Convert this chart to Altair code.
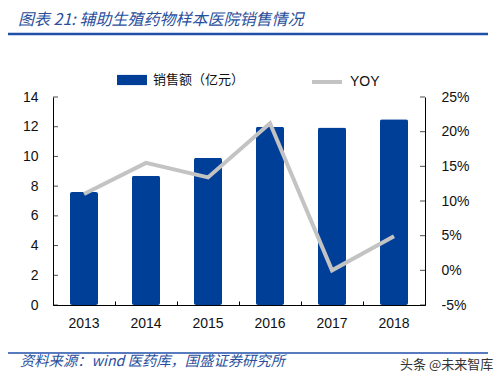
import altair as alt
import pandas as pd

years = ["2013", "2014", "2015", "2016", "2017", "2018"]
sales = [7.6, 8.7, 9.9, 12.0, 11.95, 12.5]
yoy = [11.0, 15.5, 13.4, 21.2, 0.0, 4.9]
left_ticks = [0, 2, 4, 6, 8, 10, 12, 14]
right_ticks = [-5, 0, 5, 10, 15, 20, 25]
series_names = ["销售额（亿元）", "YOY"]
title_text = "图表 21: 辅助生殖药物样本医院销售情况"
source_text = "资料来源：wind 医药库，国盛证券研究所"
watermark_text = "头条 @未来智库"

BLUE = "#003f98"
GRAY = "#c3c3c3"
TITLE_BLUE = "#2a4f9c"
W, H = 372, 208
CJK = "Noto Sans CJK SC"
LAT = "Liberation Sans"

df = pd.DataFrame({"year": years, "sales": sales, "yoy": yoy,
                   "s1": series_names[0], "s2": series_names[1]})
base = alt.Chart(df)
xscale = alt.Scale(domain=years, paddingInner=0, paddingOuter=0)

bars = base.mark_bar(size=28, cornerRadius=2).encode(
    x=alt.X("year:N", sort=years, scale=xscale,
            axis=alt.Axis(title=None, labelAngle=0, ticks=False, domainColor="#000",
                          labelFont=LAT, labelFontSize=14, labelColor="#111",
                          labelPadding=11, orient="bottom")),
    y=alt.Y("sales:Q", scale=alt.Scale(domain=[0, 14], nice=False, zero=False),
            axis=alt.Axis(title=None, orient="left", values=left_ticks, ticks=False,
                          domainColor="#000", labelFont=LAT, labelFontSize=14,
                          labelColor="#111", labelPadding=15, grid=False)),
    color=alt.Color("s1:N", scale=alt.Scale(domain=[series_names[0]], range=[BLUE]),
                    legend=alt.Legend(orient="none", legendX=64, legendY=-32, title=None,
                                      symbolType="M-1,-0.34H1V0.34H-1Z", symbolSize=900,
                                      symbolStrokeWidth=0, labelFont=CJK, labelFontSize=13,
                                      labelColor="#111", labelOffset=6)),
)

line = base.mark_line(strokeWidth=4).encode(
    x=alt.X("year:N", sort=years, scale=xscale,
            axis=alt.Axis(title=None, orient="top", offset=-H, labels=False, domain=False,
                          ticks=True, tickSize=4, tickColor="#000", tickBand="extent")),
    y=alt.Y("yoy:Q", scale=alt.Scale(domain=[-5, 25], nice=False, zero=False),
            axis=alt.Axis(title=None, orient="right", values=right_ticks, ticks=False,
                          domainColor="#000", labelFont=LAT, labelFontSize=14,
                          labelColor="#111", labelPadding=16, grid=False,
                          labelExpr="datum.value + '%'")),
    stroke=alt.Stroke("s2:N", scale=alt.Scale(domain=[series_names[1]], range=[GRAY]),
                      legend=alt.Legend(orient="none", legendX=257, legendY=-32, title=None,
                                        symbolType="stroke", symbolSize=900,
                                        symbolStrokeWidth=4, labelFont=LAT, labelFontSize=14,
                                        labelColor="#111", labelOffset=6)),
)

lt = alt.Chart(pd.DataFrame({"v": left_ticks})).mark_tick(
    color="#000", thickness=1, size=5, orient="horizontal").encode(
    y=alt.Y("v:Q", scale=alt.Scale(domain=[0, 14], nice=False, zero=False), axis=None),
    x=alt.value(2.5))

rt = alt.Chart(pd.DataFrame({"v": right_ticks})).mark_tick(
    color="#000", thickness=1, size=5, orient="horizontal").encode(
    y=alt.Y("v:Q", scale=alt.Scale(domain=[-5, 25], nice=False, zero=False), axis=None),
    x=alt.value(W - 2.5))

one = pd.DataFrame({"a": [0]})
title = alt.Chart(pd.DataFrame({"t": [title_text]})).mark_text(
    align="left", baseline="middle", font=CJK, fontSize=16, fontStyle="italic",
    color=TITLE_BLUE).encode(text="t:N", x=alt.value(-35), y=alt.value(-77))
title_rule = alt.Chart(one).mark_rule(color="#1f4fa8", strokeWidth=2.5).encode(
    x=alt.value(-46), x2=alt.value(435), y=alt.value(-63))
foot_rule = alt.Chart(one).mark_rule(color="#1f4fa8", strokeWidth=1.5).encode(
    x=alt.value(-46), x2=alt.value(435), y=alt.value(256))
source = alt.Chart(pd.DataFrame({"t": [source_text]})).mark_text(
    align="left", baseline="middle", font=CJK, fontSize=14.3, fontStyle="italic",
    color=TITLE_BLUE).encode(text="t:N", x=alt.value(-33), y=alt.value(265))
wm = alt.Chart(pd.DataFrame({"t": [watermark_text]})).mark_text(
    align="left", baseline="middle", font=CJK, fontSize=13,
    color="#333").encode(text="t:N", x=alt.value(347), y=alt.value(268))

chart = alt.layer(bars, lt, line, rt, title, title_rule, foot_rule, source, wm).resolve_scale(
    y="independent").resolve_axis(x="independent", y="independent").properties(
    width=W, height=H,
    padding={"left": 45, "top": 89, "right": 70, "bottom": 68},
    autosize=alt.AutoSizeParams(type="none"),
).configure_view(stroke=None)

chart.save("out.html", embed_options={"renderer": "svg", "actions": False})
